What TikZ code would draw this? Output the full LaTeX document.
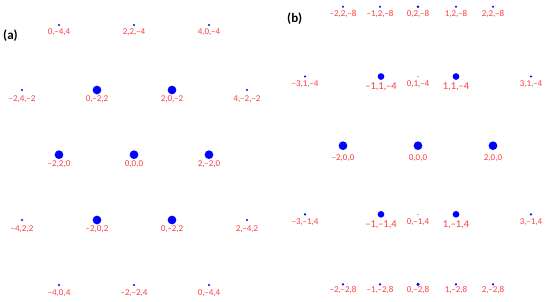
\documentclass[tikz,border=0pt]{standalone}
\usepackage{fontspec}
\setmainfont{Carlito}
\definecolor{labred}{RGB}{255,60,60}
\definecolor{dotblue}{RGB}{0,0,255}
\newcommand\mydot[7]{% name, x, y, diam, label, baseline, style
  \node[dotn, minimum size=#4pt] (#1) at (#2,#3) {};
  \node[#7] (#1l) at (#2,#6) {#5};
}
\begin{document}
\begin{tikzpicture}[x=1pt,y=-1pt,
  dotn/.style={circle, fill=dotblue, inner sep=0pt, draw=none},
  lab/.style={text=labred, anchor=base, inner sep=0pt, font=\fontsize{9}{10}\selectfont},
  labbig/.style={lab, font=\fontsize{10.5}{12}\selectfont},
  panel/.style={anchor=base west, inner sep=0pt, font=\fontsize{13}{15}\selectfont\bfseries}]
\useasboundingbox (0,0) rectangle (550,301);
\node[panel] (pa) at (3,39) {(a)};
\node[panel] (pb) at (287,22.5) {(b)};
% (a) row 1
\mydot{a11}{59}{25}{2.4}{0,–4,4}{34.5}{lab}
\mydot{a12}{134}{25}{2.4}{2,2,–4}{34.5}{lab}
\mydot{a13}{209}{25}{2.4}{4,0,–4}{34.5}{lab}
% (a) row 2
\mydot{a21}{22}{90}{2.4}{–2,4,–2}{101}{lab}
\mydot{a22}{97}{90}{8.7}{0,–2,2}{101.3}{lab}
\mydot{a23}{172}{90}{8.7}{2,0,–2}{101.3}{lab}
\mydot{a24}{247}{90}{2.4}{4,–2,–2}{101}{lab}
% (a) row 3
\mydot{a31}{59}{154.7}{8.7}{–2,2,0}{166.5}{lab}
\mydot{a32}{134}{154.7}{8.7}{0,0,0}{166.5}{lab}
\mydot{a33}{209}{154.7}{8.7}{2,–2,0}{166.5}{lab}
% (a) row 4
\mydot{a41}{22}{220}{2.4}{–4,2,2}{231.7}{lab}
\mydot{a42}{97}{220}{8.7}{–2,0,2}{231.7}{lab}
\mydot{a43}{172}{220}{8.7}{0,–2,2}{231.7}{lab}
\mydot{a44}{247}{220}{2.4}{2,–4,2}{231.7}{lab}
% (a) row 5
\mydot{a51}{59}{285}{2.4}{–4,0,4}{295}{lab}
\mydot{a52}{134}{285}{2.4}{–2,–2,4}{295}{lab}
\mydot{a53}{209}{285}{2.4}{0,–4,4}{295}{lab}
% (b) row 1
\mydot{b11}{343}{6.7}{2.4}{–2,2,–8}{16.7}{lab}
\mydot{b12}{380}{6.7}{2.4}{–1,2,–8}{16.7}{lab}
\mydot{b13}{418}{6.7}{2.6}{0,2,–8}{16.7}{lab}
\mydot{b14}{456}{6.7}{2.4}{1,2,–8}{16.7}{lab}
\mydot{b15}{493}{6.7}{2.4}{2,2,–8}{16.7}{lab}
% (b) row 2
\mydot{b21}{305}{76.5}{2.4}{–3,1,–4}{86}{lab}
\mydot{b22}{381}{76.5}{6.7}{–1,1,–4}{89.3}{labbig}
\mydot{b23}{418}{76.5}{1}{0,1,–4}{86}{lab}
\mydot{b24}{456}{76.5}{6.7}{1,1,–4}{89.3}{labbig}
\mydot{b25}{531}{76.5}{2.4}{3,1,–4}{86}{lab}
% (b) row 3
\mydot{b31}{343}{145.7}{8.7}{–2,0,0}{160}{lab}
\mydot{b32}{418}{145.7}{8.7}{0,0,0}{160}{lab}
\mydot{b33}{493}{145.7}{8.7}{2,0,0}{160}{lab}
% (b) row 4
\mydot{b41}{305}{214.3}{2.4}{–3,–1,4}{224.3}{lab}
\mydot{b42}{381}{214.3}{6.7}{–1,–1,4}{227.7}{labbig}
\mydot{b43}{418}{214.3}{1}{0,–1,4}{224.3}{lab}
\mydot{b44}{456}{214.3}{6.7}{1,–1,4}{227.7}{labbig}
\mydot{b45}{531}{214.3}{2.4}{3,–1,4}{224.3}{lab}
% (b) row 5
\mydot{b51}{343}{284.3}{2.4}{–2,–2,8}{292}{lab}
\mydot{b52}{380}{284.3}{2.4}{–1,–2,8}{292}{lab}
\mydot{b53}{418}{284.3}{3.5}{0,–2,8}{292}{lab}
\mydot{b54}{456}{284.3}{2.4}{1,–2,8}{292}{lab}
\mydot{b55}{493}{284.3}{2.4}{2,–2,8}{292}{lab}
\end{tikzpicture}
\end{document}
